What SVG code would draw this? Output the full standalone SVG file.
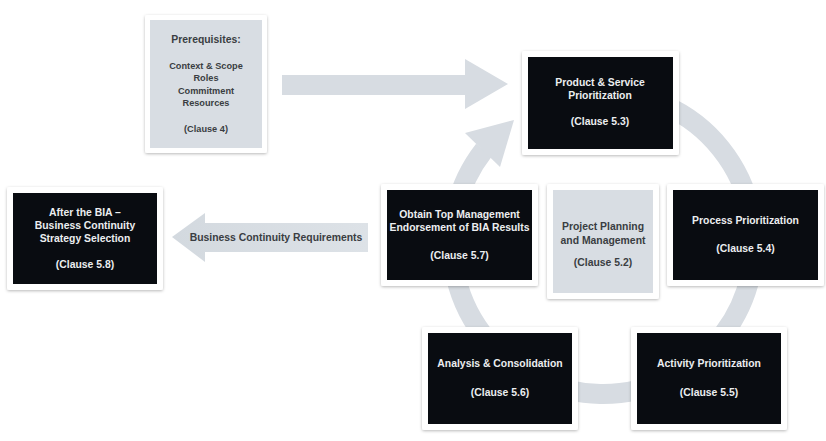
<svg xmlns="http://www.w3.org/2000/svg" width="826" height="441" viewBox="0 0 826 441">
<defs>
<filter id="sh" x="-10%" y="-10%" width="120%" height="125%">
<feDropShadow dx="0" dy="1" stdDeviation="1.8" flood-color="#000" flood-opacity="0.28"/>
</filter>
<linearGradient id="lg" x1="0" y1="0" x2="1" y2="0">
<stop offset="0" stop-color="#d3d9df"/>
<stop offset="1" stop-color="#dde2e7"/>
</linearGradient>
</defs>
<style>
.frame{fill:#ffffff;filter:url(#sh)}
.dark{fill:#090c11}
.light{fill:#d8dde3}
text{font-family:"Liberation Sans",Arial,sans-serif;font-weight:bold;font-size:10.4px;text-anchor:middle}
.w{fill:#eceef0}
.d{fill:#3a3d42}
.s{font-size:9.2px}
.conn{fill:#d7dce2}
</style>
<rect width="826" height="441" fill="#ffffff"/>
<g id="connectors">
<path d="M603 92 A151 151 0 1 1 484 150" fill="none" stroke="#d7dce2" stroke-width="20"/>
<polygon class="conn" points="514,120 465,133 500,167"/>
<polygon class="conn" points="282,75 465,75 465,59 508,84 465,109 465,95 282,95"/>
<polygon fill="url(#lg)" points="172,237 205,213 205,223 368,223 368,252 205,252 205,262"/>
<text class="d" x="276" y="241">Business Continuity Requirements</text>
</g>
<g id="prerequisites">
<rect class="frame" x="145" y="15" width="122" height="138" rx="2"/>
<rect class="light" x="150" y="20" width="112" height="128"/>
<text class="d" x="206" y="42.5">Prerequisites:</text>
<text class="d s" x="206" y="68.5">Context &amp; Scope</text>
<text class="d s" x="206" y="81">Roles</text>
<text class="d s" x="206" y="93.5">Commitment</text>
<text class="d s" x="206" y="106">Resources</text>
<text class="d s" x="206" y="131.5">(Clause 4)</text>
</g>
<g id="product">
<rect class="frame" x="522" y="51" width="157" height="104" rx="2"/>
<rect class="dark" x="528" y="57" width="145" height="92"/>
<text class="w" x="600" y="85.5">Product &amp; Service</text>
<text class="w" x="600" y="99">Prioritization</text>
<text class="w" x="600" y="125">(Clause 5.3)</text>
</g>
<g id="obtain">
<rect class="frame" x="381" y="184" width="157" height="102" rx="2"/>
<rect class="dark" x="387" y="190" width="145" height="90"/>
<text class="w" x="459.5" y="217.5">Obtain Top Management</text>
<text class="w" x="459.5" y="231">Endorsement of BIA Results</text>
<text class="w" x="459.5" y="258.5">(Clause 5.7)</text>
</g>
<g id="project">
<rect class="frame" x="547" y="184" width="112" height="115" rx="2"/>
<rect class="light" x="553" y="190" width="100" height="103"/>
<text class="d" x="603" y="229.5">Project Planning</text>
<text class="d" x="603" y="243.5">and Management</text>
<text class="d" x="603" y="265.5">(Clause 5.2)</text>
</g>
<g id="process">
<rect class="frame" x="667" y="184" width="157" height="102" rx="2"/>
<rect class="dark" x="673" y="190" width="145" height="90"/>
<text class="w" x="745.5" y="223.5">Process Prioritization</text>
<text class="w" x="745.5" y="251.5">(Clause 5.4)</text>
</g>
<g id="analysis">
<rect class="frame" x="422" y="327" width="156" height="103" rx="2"/>
<rect class="dark" x="428" y="333" width="144" height="91"/>
<text class="w" x="500" y="366.5">Analysis &amp; Consolidation</text>
<text class="w" x="500" y="395.5">(Clause 5.6)</text>
</g>
<g id="activity">
<rect class="frame" x="631" y="327" width="156" height="103" rx="2"/>
<rect class="dark" x="637" y="333" width="144" height="91"/>
<text class="w" x="709" y="366.5">Activity Prioritization</text>
<text class="w" x="709" y="395.5">(Clause 5.5)</text>
</g>
<g id="after-bia">
<rect class="frame" x="7" y="187" width="156" height="103" rx="2"/>
<rect class="dark" x="13" y="193" width="144" height="91"/>
<text class="w" x="85" y="215.5">After the BIA –</text>
<text class="w" x="85" y="229">Business Continuity</text>
<text class="w" x="85" y="242">Strategy Selection</text>
<text class="w" x="85" y="267.5">(Clause 5.8)</text>
</g>
</svg>
